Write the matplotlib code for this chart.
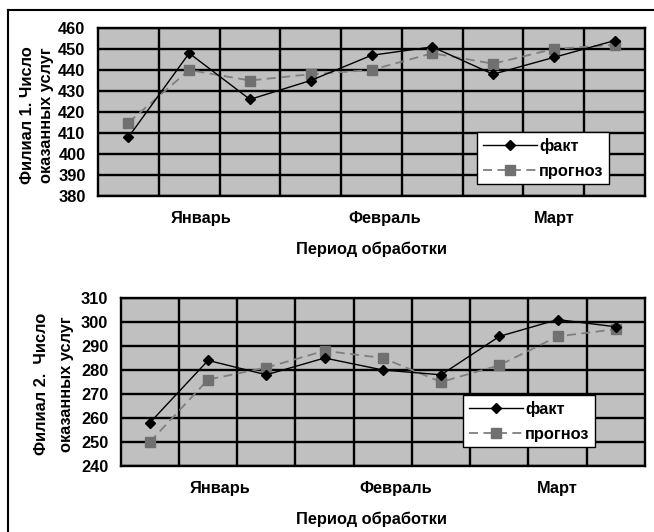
import matplotlib.pyplot as plt
import numpy as np

plt.rcParams['font.family'] = ['Liberation Sans', 'DejaVu Sans']
plt.rcParams['font.weight'] = 'bold'

months = ["Январь", "Февраль", "Март"]
month_pos = [1.2, 4.22, 7.0]

fact_1 = [408, 448, 426, 435, 447, 451, 438, 446, 454]
plan_1 = [415, 440, 435, 438, 440, 448, 443, 450, 452]
fact_2 = [258, 284, 278, 285, 280, 278, 294, 301, 298]
plan_2 = [250, 276, 281, 288, 285, 275, 282, 294, 297]

W, H = 654, 532
FS = 11.8
fig = plt.figure(figsize=(W / 100, H / 100), dpi=100)


def px_axes(x0, y0, x1, y1):
    return fig.add_axes([x0 / W, 1 - y1 / H, (x1 - x0) / W, (y1 - y0) / H])


def draw(ax, fact, plan, ylim, step, legend_box):
    x = np.arange(len(fact))
    ax.set_facecolor("#c0c0c0")
    ax.plot(x, fact, color="black", lw=1.0, marker="D", ms=5.5, label="факт", zorder=4)
    ax.plot(x, plan, color="#7f7f7f", lw=1.3, ls=(0, (5, 3)), marker="s", ms=6.5,
            mfc="#707070", mec="#707070", label="прогноз", zorder=3)
    ax.set_xlim(-0.5, len(fact) - 0.5)
    ax.set_ylim(*ylim)
    ax.set_yticks(np.arange(ylim[0], ylim[1] + 1, step))
    ax.set_xticks(month_pos)
    ax.set_xticklabels(months)
    ax.set_xticks(np.arange(0.5, len(fact) - 0.5, 1), minor=True)
    ax.grid(True, which="major", axis="y", color="black", lw=1.7)
    ax.grid(True, which="minor", axis="x", color="black", lw=1.7)
    ax.tick_params(which="both", length=0, labelsize=FS)
    ax.tick_params(axis="y", pad=9)
    ax.tick_params(axis="x", pad=11)
    for s in ax.spines.values():
        s.set_linewidth(1.7)
    leg = ax.legend(loc="upper left",
                    bbox_to_anchor=(legend_box[0] / W, 1 - legend_box[1] / H),
                    bbox_transform=fig.transFigure, fancybox=False, framealpha=1,
                    edgecolor="black", fontsize=FS, handlelength=3.3,
                    borderaxespad=0, borderpad=0.35, labelspacing=0.6, handletextpad=0.15)
    leg.get_frame().set_linewidth(1.0)
    leg.set_zorder(10)


ax1 = px_axes(98, 28, 645, 196)
draw(ax1, fact_1, plan_1, (380, 460), 10, (477, 132))
ax2 = px_axes(120.7, 298, 645, 466)
draw(ax2, fact_2, plan_2, (240, 310), 10, (463, 395))

fig.text(371 / W, 1 - 249 / H, "Период обработки", ha="center", va="center", fontsize=FS)
fig.text(371 / W, 1 - 519 / H, "Период обработки", ha="center", va="center", fontsize=FS)

fig.text(28 / W, 1 - 115 / H, "Филиал 1. Число", rotation=90, ha="center", va="center", fontsize=FS)
fig.text(47 / W, 1 - 115 / H, "оказанных услуг", rotation=90, ha="center", va="center", fontsize=FS)
fig.text(42 / W, 1 - 384 / H, "Филиал 2.  Число", rotation=90, ha="center", va="center", fontsize=FS)
fig.text(67 / W, 1 - 384 / H, "оказанных услуг", rotation=90, ha="center", va="center", fontsize=FS)

# outer frame (only top and left edges show)
fig.add_artist(plt.Line2D([8 / W, 8 / W], [0, 1 - 10 / H], color="black", lw=1.5))
fig.add_artist(plt.Line2D([8 / W, 1], [1 - 10 / H, 1 - 10 / H], color="black", lw=1.5))

fig.savefig("out.png", dpi=100)
